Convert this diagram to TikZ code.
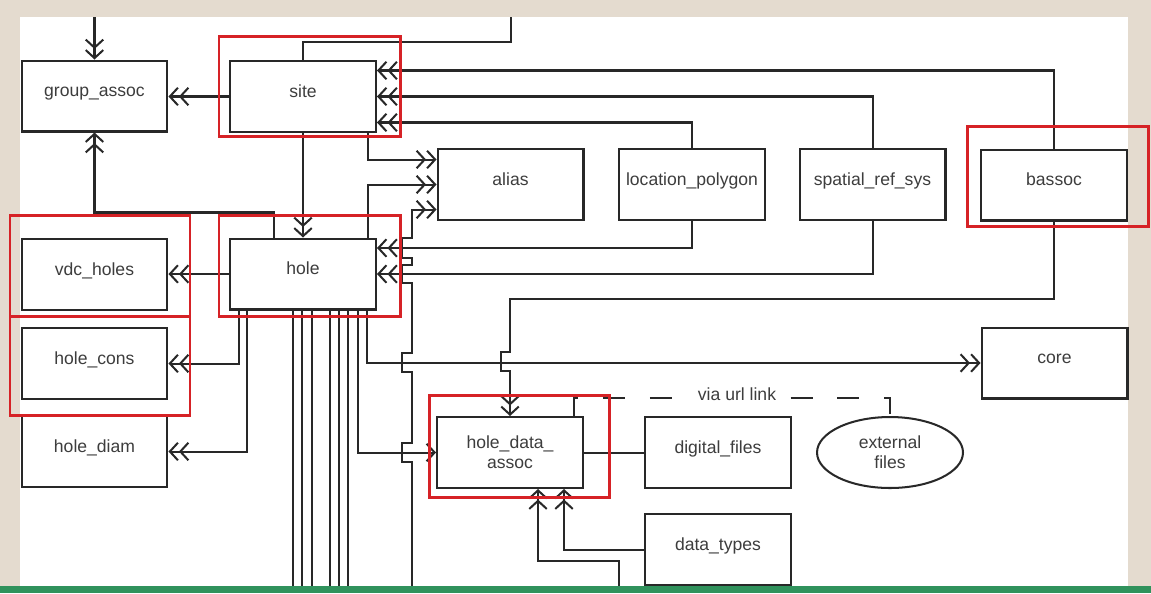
\documentclass[tikz,border=0pt]{standalone}
\usepackage{fontspec}
\setmainfont{Liberation Sans}
\usepackage{xcolor}
\usepackage{tikz}
\usetikzlibrary{arrows.meta,positioning,shapes.geometric,calc}
\definecolor{paper}{RGB}{228,219,207}
\definecolor{barg}{RGB}{48,146,92}
\definecolor{hilite}{RGB}{214,34,38}
\definecolor{ink}{RGB}{40,40,40}

\begin{document}
\begin{tikzpicture}[
    x=0.02cm, y=-0.02cm,
    box/.style={rectangle, draw=ink, line width=1.15pt, fill=white, minimum width=2.92cm, minimum height=1.42cm, inner sep=1pt, align=center, text=ink!90, font=\fontsize{10}{11.5}\selectfont},
    block/.style={box, text height=0.7em, text depth=0.6em},
    link/.style={draw=ink, line width=1.15pt},
    arrow/.style={link, -{Straight Barb[length=4.6pt,width=10pt] Straight Barb[length=4.6pt,width=10pt]}},
    single/.style={link, -{Straight Barb[length=4.6pt,width=10pt]}},
    frame/.style={draw=hilite, line width=1.7pt}
]
\useasboundingbox (0,0) rectangle (1151,593);
\fill[paper] (0,0) rectangle (1151,593);
\fill[white] (20,17) rectangle (1128,586);

\node[block] (grp) at (94.5,96) {group\_assoc};
\node[block] (site) at (303,96.5) {site};
\node[block] (alias) at (510.5,184.5) {alias};
\node[block] (locpoly) at (692,184.5) {location\_polygon};
\node[block] (srs) at (872.5,184.5) {spatial\_ref\_sys};
\node[block] (bassoc) at (1054,185) {bassoc};
\node[block] (hole) at (303,274) {hole};
\node[block] (vdc) at (94.5,274.5) {vdc\_holes};
\node[block] (cons) at (94.5,363.5) {hole\_cons};
\node[block] (diam) at (94.5,451.5) {hole\_diam};
\node[block] (core) at (1054.5,363) {core};
\node[box] (hda) at (510,452.5) {hole\_data\_\\assoc};
\node[block] (dfiles) at (718,452.5) {digital\_files};
\node[block] (dtypes) at (718,549.5) {data\_types};
\node[box, ellipse] (ext) at (890,452.5) {external\\files};

\coordinate (inA) at (94.5,17);
\coordinate (outA) at (511,17);
\coordinate (outB) at (412,586);
\coordinate (outC) at (619,586);
\coordinate (o1) at (293,586);
\coordinate (o2) at (302,586);
\coordinate (o3) at (312,586);
\coordinate (o4) at (330,586);
\coordinate (o5) at (339,586);
\coordinate (o6) at (348,586);

\draw[arrow] (inA) -- (grp.north);
\draw[link] (site.north) -- ++(0,-18) -| (outA);
\draw[arrow] (site.west) -- (site.west -| grp.east);
\draw[arrow] (bassoc.north) |- ($(site.east)+(0,-26)$);
\draw[arrow] (srs.north) |- (site.east);
\draw[arrow] (locpoly.north) |- ($(site.east)+(0,26)$);
\draw[arrow] ($(site.south east)+(-9,0)$) |- ($(alias.west)+(0,-25)$);
\draw[arrow] (site) -- (hole);
\draw[arrow] ($(hole.north east)+(-9,0)$) |- (alias.west);
\draw[arrow] ($(hole.north west)+(45,0)$) -- ++(0,-25) -| (grp.south);
\draw[arrow] (hole.west) -- (hole.west -| vdc.east);
\draw[arrow] ($(hole.south west)+(10,0)$) |- (cons.east);
\draw[arrow] ($(hole.south west)+(18,0)$) |- (diam.east);
\draw[arrow] (locpoly.south) |- ($(hole.east)+(0,-26)$);
\draw[arrow] (srs.south) |- (hole.east);
\draw[arrow] ($(hole.south east)+(-10,0)$) |- (core.west);
\draw[single] ($(hole.south east)+(-19,0)$) |- (hda.west);
\draw[link] (hole.south -| o1) -- (o1) (hole.south -| o2) -- (o2) (hole.south -| o3) -- (o3)
    (hole.south -| o4) -- (o4) (hole.south -| o5) -- (o5) (hole.south -| o6) -- (o6);
\draw[arrow] (outB) -- (412,462) -- ++(-10,0) -- ++(0,-19) -- ++(10,0)
    -- (412,372) -- ++(-10,0) -- ++(0,-19) -- ++(10,0)
    -- (412,283) -- ++(-10,0) -- ++(0,-18) -- ++(10,0)
    -- (412,258) -- ++(-10,0) -- ++(0,-20) -- ++(10,0)
    |- ($(alias.west)+(0,25)$);
\draw[arrow] (bassoc.south) |- ($(hda.north)+(0,-117)$) -- ($(hda.north)+(0,-64)$)
    -- ++(-9,0) -- ++(0,19) -- ++(9,0) -- (hda.north);
\draw[link] (hda.east) -- (dfiles.west);
\draw[arrow] (dtypes.west) -| ($(hda.south)+(54,0)$);
\draw[arrow] (outC) -- ++(0,-25) -| ($(hda.south)+(28,0)$);
\draw[link, dash pattern=on 12.5pt off 14.2pt] ($(hda.north east)+(-10,0)$) -- ++(0,-18) -| (ext.north);
\node[fill=white, inner sep=3pt, text=ink!90, font=\fontsize{10}{12}\selectfont] (url) at (737,394) {via url link};

\draw[frame] (219,36) rectangle (400,136);
\draw[frame] (219,215) rectangle (400,316);
\draw[frame] (10,215) rectangle (190,316);
\draw[frame] (10,316) rectangle (190,415);
\draw[frame] (967,126) rectangle (1148,226);
\draw[frame] (429,395) rectangle (609,497);

\fill[barg] (0,586) rectangle (1151,593);
\end{tikzpicture}
\end{document}
